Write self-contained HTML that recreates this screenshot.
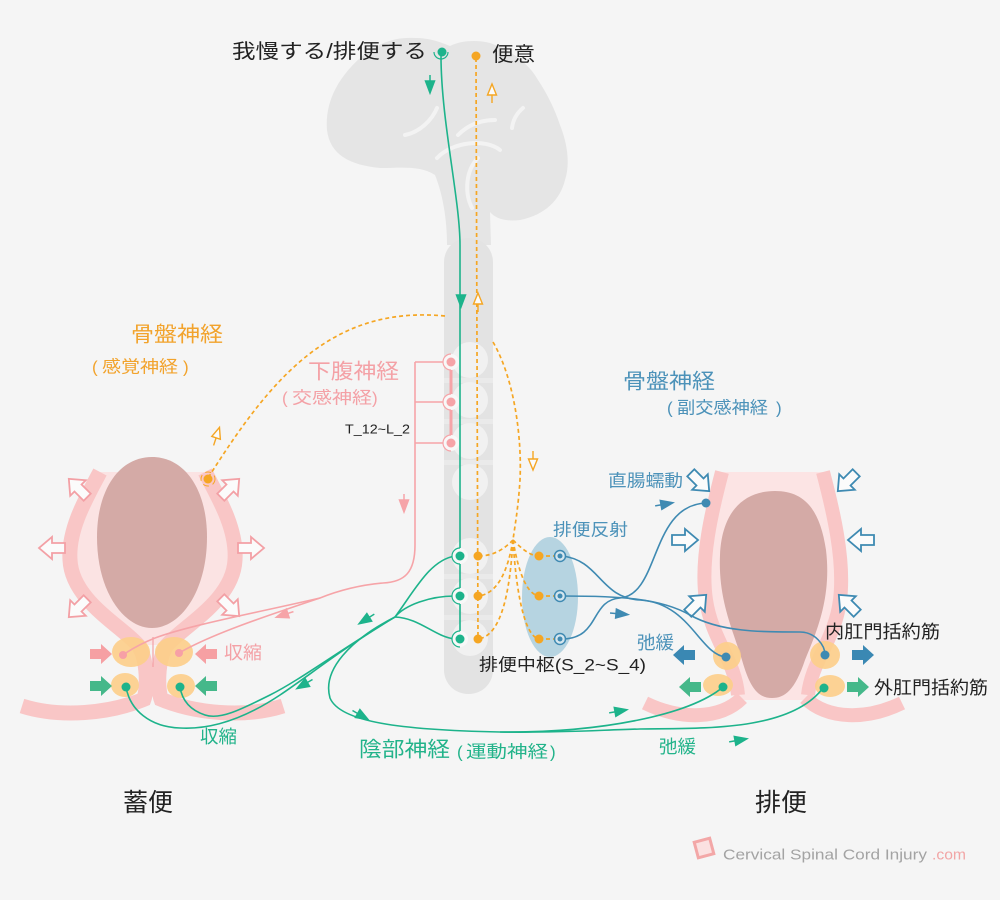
<!DOCTYPE html>
<html><head><meta charset="utf-8"><style>
html,body{margin:0;padding:0;background:#f5f5f5;}
svg{display:block;}
text{font-family:"Liberation Sans","Noto Sans CJK JP",sans-serif;dominant-baseline:central;}
</style></head><body>
<svg width="1000" height="900" viewBox="0 0 1000 900" xmlns="http://www.w3.org/2000/svg">
<rect width="1000" height="900" fill="#f5f5f5"/>

<!-- brain -->
<path d="M327,130 C325,105 335,78 367,52 C385,40 400,37 415,38 C430,38 440,42 450,46 C462,40 478,40 490,43 C510,50 528,62 538,80 C548,95 555,110 560,125 C568,145 570,165 565,180 C560,200 545,215 520,220 C505,222 495,218 490,212 L491,245 L447,245 C447,220 443,195 435,175 C420,165 400,168 380,168 C350,165 330,155 327,130 Z" fill="#e5e5e5"/>
<g stroke="#f3f3f3" stroke-width="4" fill="none" stroke-linecap="round">
<path d="M405,135 C420,132 432,120 437,108"/>
<path d="M458,135 C468,125 480,120 495,120"/>
<path d="M512,128 C513,120 517,113 523,108"/>
<path d="M437,158 C452,142 485,138 500,150"/>
<path d="M478,158 C466,170 464,192 472,208"/>
</g>

<!-- spinal column -->
<rect x="444" y="238" width="49" height="456" rx="24" fill="#e3e3e3"/>
<g fill="#eaeaea">
<rect x="444" y="378" width="49" height="5"/>
<rect x="444" y="419" width="49" height="5"/>
<rect x="444" y="460" width="49" height="5"/>
<rect x="444" y="574" width="49" height="5"/>
<rect x="444" y="615" width="49" height="5"/>
</g>
<g fill="#f1f1f1">
<circle cx="470" cy="360" r="18"/>
<circle cx="470" cy="400" r="18"/>
<circle cx="470" cy="441" r="18"/>
<circle cx="470" cy="482" r="18"/>
<circle cx="470" cy="556" r="18"/>
<circle cx="470" cy="596" r="18"/>
<circle cx="470" cy="638" r="18"/>
</g>

<!-- blue reflex ellipse -->
<ellipse cx="550" cy="597" rx="28" ry="60" fill="#b6d4e1"/>

<!-- LEFT ORGAN -->
<path d="M100,472 L205,472 C220,500 237,530 235,560 C233,600 185,625 167,645 L138,645 C120,625 72,600 70,560 C68,530 85,500 100,472 Z" fill="#fbe3e3"/>
<path d="M152,457 C185,457 207,490 207,537 C207,592 180,628 152,628 C124,628 97,592 97,537 C97,490 119,457 152,457 Z" fill="#d4aaa6"/>
<g stroke="#f9c6c6" stroke-width="15" fill="none">
<path d="M100,472 C85,500 68,530 70,560 C72,600 120,625 138,645 C148,660 148,690 143,702"/>
<path d="M205,472 C220,500 237,530 235,560 C233,600 185,625 167,645 C157,660 157,690 162,702"/>
<path d="M22,706 C60,718 110,714 147,698"/>
<path d="M283,706 C245,718 195,714 158,698"/>
</g>
<g fill="#fdcf8a" opacity="0.9">
<ellipse cx="131" cy="652" rx="19" ry="15"/>
<ellipse cx="174" cy="652" rx="19" ry="15"/>
<ellipse cx="125" cy="685" rx="14" ry="12"/>
<ellipse cx="181" cy="686" rx="14" ry="12"/>
</g>
<line x1="153" y1="637" x2="153" y2="667" stroke="#f4a0a5" stroke-width="1.2"/>

<!-- left organ hollow arrows -->
<g fill="#fbfbfb" stroke="#f3a0a5" stroke-width="1.8" stroke-linejoin="miter">
<polygon points="-13,-5 0,-5 0,-11 13,0 0,11 0,5 -13,5" transform="translate(78,488) rotate(-135)"/>
<polygon points="-13,-5 0,-5 0,-11 13,0 0,11 0,5 -13,5" transform="translate(230,488) rotate(-45)"/>
<polygon points="-13,-5 0,-5 0,-11 13,0 0,11 0,5 -13,5" transform="translate(52,548) rotate(180)"/>
<polygon points="-13,-5 0,-5 0,-11 13,0 0,11 0,5 -13,5" transform="translate(251,548)"/>
<polygon points="-13,-5 0,-5 0,-11 13,0 0,11 0,5 -13,5" transform="translate(78,608) rotate(135)"/>
<polygon points="-13,-5 0,-5 0,-11 13,0 0,11 0,5 -13,5" transform="translate(230,607) rotate(45)"/>
</g>
<!-- left sphincter filled arrows -->
<polygon points="-11,-5 0,-5 0,-10 11,0 0,10 0,5 -11,5" transform="translate(101,654)" fill="#f6a0a3"/>
<polygon points="-11,-5 0,-5 0,-10 11,0 0,10 0,5 -11,5" transform="translate(206,654) rotate(180)" fill="#f6a0a3"/>
<polygon points="-11,-5 0,-5 0,-10 11,0 0,10 0,5 -11,5" transform="translate(101,686)" fill="#45b88a"/>
<polygon points="-11,-5 0,-5 0,-10 11,0 0,10 0,5 -11,5" transform="translate(206,686) rotate(180)" fill="#45b88a"/>

<!-- RIGHT ORGAN -->
<path d="M722,472 L823,472 C833,510 845,560 840,600 C835,640 812,660 808,700 L738,700 C735,660 712,640 706,600 C700,560 712,510 722,472 Z" fill="#fce4e4"/>
<path d="M775,491 C805,491 820,510 826,550 C832,600 815,635 805,660 C795,690 785,698 772,698 C758,698 750,688 742,660 C733,630 718,600 720,555 C722,510 745,491 775,491 Z" fill="#d4aaa6"/>
<g stroke="#f9c6c6" stroke-width="14" fill="none">
<path d="M722,472 C712,510 700,560 706,600 C712,640 735,660 738,695"/>
<path d="M823,472 C833,510 845,560 840,600 C835,640 812,660 808,695"/>
<path d="M645,703 C680,720 720,720 742,698"/>
<path d="M902,703 C867,720 828,720 805,698"/>
</g>
<g fill="#fdcf8a" opacity="0.9">
<ellipse cx="727" cy="656" rx="14" ry="14"/>
<ellipse cx="825" cy="655" rx="15" ry="14"/>
<ellipse cx="718" cy="685" rx="15" ry="11"/>
<ellipse cx="830" cy="686" rx="15" ry="11"/>
</g>
<g fill="#fbfbfb" stroke="#3e8ab2" stroke-width="1.8">
<polygon points="-13,-5 0,-5 0,-11 13,0 0,11 0,5 -13,5" transform="translate(700,482) rotate(45)"/>
<polygon points="-13,-5 0,-5 0,-11 13,0 0,11 0,5 -13,5" transform="translate(685,540)"/>
<polygon points="-13,-5 0,-5 0,-11 13,0 0,11 0,5 -13,5" transform="translate(697,604) rotate(-45)"/>
<polygon points="-13,-5 0,-5 0,-11 13,0 0,11 0,5 -13,5" transform="translate(847,482) rotate(135)"/>
<polygon points="-13,-5 0,-5 0,-11 13,0 0,11 0,5 -13,5" transform="translate(861,540) rotate(180)"/>
<polygon points="-13,-5 0,-5 0,-11 13,0 0,11 0,5 -13,5" transform="translate(848,604) rotate(-135)"/>
</g>
<polygon points="-11,-5 0,-5 0,-10 11,0 0,10 0,5 -11,5" transform="translate(684,655) rotate(180)" fill="#3a88b3"/>
<polygon points="-11,-5 0,-5 0,-10 11,0 0,10 0,5 -11,5" transform="translate(863,655)" fill="#3a88b3"/>
<polygon points="-11,-5 0,-5 0,-10 11,0 0,10 0,5 -11,5" transform="translate(690,687) rotate(180)" fill="#45b88a"/>
<polygon points="-11,-5 0,-5 0,-10 11,0 0,10 0,5 -11,5" transform="translate(858,687)" fill="#45b88a"/>

<!-- ORANGE dashed sensory -->
<g stroke="#f5a623" stroke-width="1.7" stroke-dasharray="4 3" fill="none">
<path d="M476,58 L478,640"/>
<path d="M445,316 C330,305 270,380 208,478"/>
<path d="M493,342 C515,380 522,440 520,480 C518,510 515,525 513,540"/>
<path d="M513,540 C505,548 495,556 478,556"/>
<path d="M513,540 C508,570 498,594 478,596"/>
<path d="M513,540 C510,590 502,636 478,639"/>
<path d="M513,540 C521,548 530,556 539,556"/>
<path d="M513,540 C518,570 526,594 539,596"/>
<path d="M513,540 C516,590 524,636 539,639"/>
<path d="M539,556 L560,556"/>
<path d="M539,596 L560,596"/>
<path d="M539,639 L560,639"/>
</g>
<g fill="#f5a623">
<circle cx="476" cy="56" r="4.5"/>
<circle cx="478" cy="556" r="4.5"/>
<circle cx="478" cy="596" r="4.5"/>
<circle cx="478" cy="639" r="4.5"/>
<circle cx="539" cy="556" r="4.5"/>
<circle cx="539" cy="596" r="4.5"/>
<circle cx="539" cy="639" r="4.5"/>
</g>
<circle cx="208" cy="479" r="7" fill="none" stroke="#f5a623" stroke-width="1" stroke-dasharray="6 4"/>
<circle cx="208" cy="479" r="4.5" fill="#f5a623"/>
<!-- orange hollow arrows -->
<g stroke="#f5a623" stroke-width="1.4" fill="#fbfbfb">
<g transform="translate(492,92) rotate(-90)"><line x1="-11" y1="0" x2="-3" y2="0"/><polygon points="-3,-4.5 8,0 -3,4.5"/></g>
<g transform="translate(478,301) rotate(-90)"><line x1="-11" y1="0" x2="-3" y2="0"/><polygon points="-3,-4.5 8,0 -3,4.5"/></g>
<g transform="translate(533,462) rotate(90)"><line x1="-11" y1="0" x2="-3" y2="0"/><polygon points="-3,-4.5 8,0 -3,4.5"/></g>
<g transform="translate(217,435) rotate(-72)"><line x1="-11" y1="0" x2="-3" y2="0"/><polygon points="-3,-4.5 8,0 -3,4.5"/></g>
</g>

<!-- PINK sympathetic -->
<g stroke="#f6a4a8" stroke-width="1.6" fill="none">
<path d="M451,362 L415,362 M451,402 L415,402 M451,443 L415,443"/>
<path d="M415,362 L415,545 C415,572 405,582 383,583 C360,585 340,590 320,598 C260,618 210,635 179,653"/>
<path d="M320,598 C260,612 190,625 155,638 C140,644 130,650 123,655"/>
</g>
<line x1="451" y1="362" x2="451" y2="443" stroke="#f6a4a8" stroke-width="3"/>
<g>
<circle cx="451" cy="362" r="8" fill="#f8f8f8"/><path d="M451,354 A8,8 0 0 0 451,370" stroke="#f6a4a8" stroke-width="1.2" fill="none"/><circle cx="451" cy="362" r="4.5" fill="#f6a4a8"/>
<circle cx="451" cy="402" r="8" fill="#f8f8f8"/><path d="M451,394 A8,8 0 0 0 451,410" stroke="#f6a4a8" stroke-width="1.2" fill="none"/><circle cx="451" cy="402" r="4.5" fill="#f6a4a8"/>
<circle cx="451" cy="443" r="8" fill="#f8f8f8"/><path d="M451,435 A8,8 0 0 0 451,451" stroke="#f6a4a8" stroke-width="1.2" fill="none"/><circle cx="451" cy="443" r="4.5" fill="#f6a4a8"/>
</g>
<circle cx="123" cy="655" r="4" fill="#f7a0a6"/>
<circle cx="179" cy="653" r="4" fill="#f7a0a6"/>
<g fill="#f6a4a8" stroke="#f6a4a8" stroke-width="1.5">
<g transform="translate(404,505) rotate(90)"><line x1="-11" y1="0" x2="-3" y2="0"/><polygon points="-5,-4.5 7,0 -5,4.5"/></g>
<g transform="translate(283,615) rotate(162)"><line x1="-11" y1="0" x2="-3" y2="0"/><polygon points="-5,-4.5 7,0 -5,4.5"/></g>
</g>

<!-- BLUE parasympathetic -->
<g stroke="#3f8ab2" stroke-width="1.6" fill="none">
<path d="M562,556 C600,560 600,598 640,600 C690,603 700,655 726,657"/>
<path d="M562,596 C620,596 660,598 690,615 C720,632 760,632 800,632 C815,632 825,645 825,655"/>
<path d="M562,639 C600,639 590,600 620,598 C660,595 650,505 706,503"/>
</g>
<g>
<circle cx="560" cy="556" r="5.5" fill="#d5e6ee" stroke="#3f8ab2" stroke-width="1.5"/><circle cx="560" cy="556" r="2.5" fill="#3f8ab2"/>
<circle cx="560" cy="596" r="5.5" fill="#d5e6ee" stroke="#3f8ab2" stroke-width="1.5"/><circle cx="560" cy="596" r="2.5" fill="#3f8ab2"/>
<circle cx="560" cy="639" r="5.5" fill="#d5e6ee" stroke="#3f8ab2" stroke-width="1.5"/><circle cx="560" cy="639" r="2.5" fill="#3f8ab2"/>
</g>
<g fill="#3f8ab2">
<circle cx="706" cy="503" r="4.5"/>
<circle cx="726" cy="657" r="4.5"/>
<circle cx="825" cy="655" r="4.5"/>
</g>
<g fill="#3f8ab2" stroke="#3f8ab2" stroke-width="1.5">
<g transform="translate(666,504) rotate(-10)"><line x1="-11" y1="0" x2="-3" y2="0"/><polygon points="-5,-4.5 7,0 -5,4.5"/></g>
<g transform="translate(621,614) rotate(5)"><line x1="-11" y1="0" x2="-3" y2="0"/><polygon points="-5,-4.5 7,0 -5,4.5"/></g>
</g>

<!-- GREEN motor -->
<g stroke="#1db38b" stroke-width="1.6" fill="none">
<path d="M441,56 C441,120 460,200 460,245 L460,640"/>
<path d="M455,556 C430,560 415,590 395,617"/>
<path d="M455,596 C430,596 405,605 395,617"/>
<path d="M455,639 C435,637 420,618 395,617"/>
<path d="M395,617 C340,650 300,680 270,695 C240,710 220,720 205,715 C190,710 182,700 180,687"/>
<path d="M395,617 C340,650 310,675 280,695 C250,715 215,730 180,728 C150,727 130,710 126,687"/>
<path d="M395,617 C350,640 322,670 330,698 C340,722 400,730 500,732 C600,733 690,715 723,687"/>
<path d="M500,732 C560,733 600,730 640,729 C700,728 790,732 823,688"/>
</g>
<path d="M434,52 A7,7 0 0 0 448,52" stroke="#1db38b" stroke-width="1.2" fill="none"/>
<circle cx="442" cy="52" r="4.5" fill="#1db38b"/>
<g>
<circle cx="460" cy="556" r="8" fill="#f8f8f8"/><path d="M460,548 A8,8 0 0 0 460,564" stroke="#1db38b" stroke-width="1.2" fill="none"/><circle cx="460" cy="556" r="4.5" fill="#1db38b"/>
<circle cx="460" cy="596" r="8" fill="#f8f8f8"/><path d="M460,588 A8,8 0 0 0 460,604" stroke="#1db38b" stroke-width="1.2" fill="none"/><circle cx="460" cy="596" r="4.5" fill="#1db38b"/>
<circle cx="460" cy="639" r="8" fill="#f8f8f8"/><path d="M460,631 A8,8 0 0 0 460,647" stroke="#1db38b" stroke-width="1.2" fill="none"/><circle cx="460" cy="639" r="4.5" fill="#1db38b"/>
</g>
<g fill="#1db38b">
<circle cx="126" cy="687" r="4.5"/>
<circle cx="180" cy="687" r="4.5"/>
<circle cx="723" cy="687" r="4.5"/>
<circle cx="824" cy="688" r="4.5"/>
</g>
<g fill="#1db38b" stroke="#1db38b" stroke-width="1.5">
<g transform="translate(430,86) rotate(90)"><line x1="-11" y1="0" x2="-3" y2="0"/><polygon points="-5,-4.5 7,0 -5,4.5"/></g>
<g transform="translate(461,300) rotate(90)"><polygon points="-5,-4.5 7,0 -5,4.5"/></g>
<g transform="translate(365,620) rotate(148)"><line x1="-11" y1="0" x2="-3" y2="0"/><polygon points="-5,-4.5 7,0 -5,4.5"/></g>
<g transform="translate(303,685) rotate(150)"><line x1="-11" y1="0" x2="-3" y2="0"/><polygon points="-5,-4.5 7,0 -5,4.5"/></g>
<g transform="translate(362,716) rotate(30)"><line x1="-11" y1="0" x2="-3" y2="0"/><polygon points="-5,-4.5 7,0 -5,4.5"/></g>
<g transform="translate(620,711) rotate(-10)"><line x1="-11" y1="0" x2="-3" y2="0"/><polygon points="-5,-4.5 7,0 -5,4.5"/></g>
<g transform="translate(740,740) rotate(-10)"><line x1="-11" y1="0" x2="-3" y2="0"/><polygon points="-5,-4.5 7,0 -5,4.5"/></g>
</g>

<!-- TEXT -->
<text x="232" y="52" font-size="20" fill="#222" textLength="195" lengthAdjust="spacingAndGlyphs">我慢する/排便する</text>
<text x="492" y="55" font-size="20" fill="#222" textLength="43" lengthAdjust="spacingAndGlyphs">便意</text>

<text x="131" y="335" font-size="21" fill="#f2a32c" textLength="92" lengthAdjust="spacingAndGlyphs">骨盤神経</text>
<g fill="#f2a32c" font-size="17">
<text x="92" y="367">(</text>
<text x="102" y="367" textLength="76" lengthAdjust="spacingAndGlyphs">感覚神経</text>
<text x="183" y="367">)</text>
</g>

<text x="308" y="372" font-size="21" fill="#f4a1a6" textLength="91" lengthAdjust="spacingAndGlyphs">下腹神経</text>
<g fill="#f4a1a6" font-size="17">
<text x="282" y="398">(</text>
<text x="292" y="398" textLength="80" lengthAdjust="spacingAndGlyphs">交感神経</text>
<text x="372" y="398">)</text>
</g>
<text x="345" y="429" font-size="13" fill="#222" textLength="65" lengthAdjust="spacingAndGlyphs">T_12~L_2</text>

<text x="623" y="382" font-size="21" fill="#4c92b9" textLength="92" lengthAdjust="spacingAndGlyphs">骨盤神経</text>
<g fill="#4c92b9" font-size="17">
<text x="667" y="408">(</text>
<text x="677" y="408" textLength="91" lengthAdjust="spacingAndGlyphs">副交感神経</text>
<text x="776" y="408">)</text>
</g>
<text x="608" y="481" font-size="17" fill="#4c92b9" textLength="75" lengthAdjust="spacingAndGlyphs">直腸蠕動</text>
<text x="553" y="530" font-size="17" fill="#4c92b9" textLength="75" lengthAdjust="spacingAndGlyphs">排便反射</text>
<text x="479" y="665" font-size="17" fill="#222" textLength="167" lengthAdjust="spacingAndGlyphs">排便中枢(S_2~S_4)</text>
<text x="637" y="643" font-size="18" fill="#4c92b9" textLength="37" lengthAdjust="spacingAndGlyphs">弛緩</text>
<text x="825" y="632" font-size="18" fill="#222" textLength="115" lengthAdjust="spacingAndGlyphs">内肛門括約筋</text>
<text x="874" y="688" font-size="18" fill="#222" textLength="114" lengthAdjust="spacingAndGlyphs">外肛門括約筋</text>

<text x="224" y="653" font-size="18" fill="#f4a1a6" textLength="38" lengthAdjust="spacingAndGlyphs">収縮</text>
<text x="200" y="737" font-size="18" fill="#22b38a" textLength="37" lengthAdjust="spacingAndGlyphs">収縮</text>
<text x="359" y="750" font-size="21" fill="#22b38a" textLength="91" lengthAdjust="spacingAndGlyphs">陰部神経</text>
<g fill="#22b38a" font-size="17">
<text x="457" y="752">(</text>
<text x="466" y="752" textLength="82" lengthAdjust="spacingAndGlyphs">運動神経</text>
<text x="550" y="752">)</text>
</g>
<text x="659" y="747" font-size="18" fill="#22b38a" textLength="37" lengthAdjust="spacingAndGlyphs">弛緩</text>

<text x="123" y="803" font-size="25" fill="#222" textLength="50" lengthAdjust="spacingAndGlyphs">蓄便</text>
<text x="755" y="803" font-size="25" fill="#222" textLength="52" lengthAdjust="spacingAndGlyphs">排便</text>

<!-- watermark -->
<g transform="translate(704,848) rotate(-15)">
<rect x="-8" y="-8" width="16" height="16" fill="#fbe1e1" stroke="#f3a7a7" stroke-width="3"/>
</g>
<text x="723" y="855" font-size="15" fill="#a3a3a3" textLength="204" lengthAdjust="spacingAndGlyphs">Cervical Spinal Cord Injury</text>
<text x="932" y="855" font-size="15" fill="#f2a5a5" textLength="34" lengthAdjust="spacingAndGlyphs">.com</text>
</svg>
</body></html>
